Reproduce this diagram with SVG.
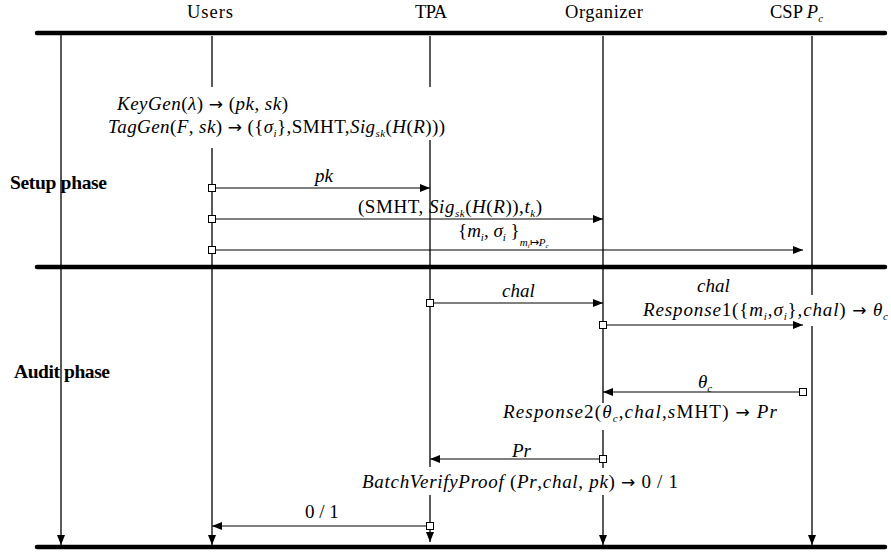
<svg xmlns="http://www.w3.org/2000/svg" width="891" height="552" viewBox="0 0 891 552">
<defs>
<marker id="ah" markerWidth="10" markerHeight="8" refX="10" refY="4" orient="auto" markerUnits="userSpaceOnUse">
<path d="M0,0 L10,4 L0,8 z" fill="#000"/>
</marker>
<style>
text{font-family:"Liberation Serif","Times New Roman",serif;font-size:19px;fill:#000}
.h{font-size:18.5px}
.b{font-weight:bold;font-size:19.5px}
.i{font-style:italic}
.s{font-size:11px}
.ar{font-family:"DejaVu Sans",sans-serif;font-size:17px}
.bar{stroke:#000;stroke-width:4.5;stroke-linecap:round;fill:none}
.life{stroke:#000;stroke-width:1.3;fill:none}
.msg{stroke:#000;stroke-width:1.2;fill:none;marker-end:url(#ah)}
.sq{fill:#fff;stroke:#000;stroke-width:1}
</style>
</defs>
<rect width="891" height="552" fill="#fff"/>

<g id="bars">
<line class="bar" x1="37" y1="33" x2="885" y2="33"/>
<line class="bar" x1="37" y1="267" x2="885" y2="267"/>
<line class="bar" x1="37" y1="547" x2="885" y2="547"/>
</g>

<g id="phase-axis">
<line class="life" x1="61" y1="35" x2="61" y2="545" marker-end="url(#ah)"/>
<text class="b" x="10" y="189" textLength="97">Setup phase</text>
<text class="b" x="14" y="378" textLength="96">Audit phase</text>
</g>

<g id="users">
<text class="h" x="187" y="18" textLength="46">Users</text>
<line class="life" x1="212" y1="36" x2="212" y2="87"/>
<line class="life" x1="212" y1="148" x2="212" y2="545" marker-end="url(#ah)"/>
</g>

<g id="tpa">
<text class="h" x="415" y="18" textLength="32">TPA</text>
<line class="life" x1="430" y1="36" x2="430" y2="87"/>
<line class="life" x1="430" y1="140" x2="430" y2="467"/>
<line class="life" x1="430" y1="495" x2="430" y2="542" marker-end="url(#ah)"/>
</g>

<g id="organizer">
<text class="h" x="565" y="18" textLength="78">Organizer</text>
<line class="life" x1="603" y1="36" x2="603" y2="403"/>
<line class="life" x1="603" y1="430" x2="603" y2="468"/>
<line class="life" x1="603" y1="495" x2="603" y2="545" marker-end="url(#ah)"/>
</g>

<g id="csp">
<text class="h" x="770" y="18">CSP <tspan class="i">P</tspan><tspan class="i s" dy="4">c</tspan></text>
<line class="life" x1="812" y1="36" x2="812" y2="295"/>
<line class="life" x1="812" y1="326" x2="812" y2="545" marker-end="url(#ah)"/>
</g>

<g id="operations">
<text x="117" y="110" textLength="171"><tspan class="i">KeyGen</tspan>(<tspan class="i">λ</tspan>) <tspan class="ar">→</tspan> (<tspan class="i">pk</tspan>, <tspan class="i">sk</tspan>)</text>
<text x="108" y="133" textLength="337"><tspan class="i">TagGen</tspan>(<tspan class="i">F</tspan>, <tspan class="i">sk</tspan>) <tspan class="ar">→</tspan> ({<tspan class="i">σ</tspan><tspan class="i s" dy="4">i</tspan><tspan dy="-4">},SMHT,</tspan><tspan class="i">Sig</tspan><tspan class="i s" dy="4">sk</tspan><tspan dy="-4">(</tspan><tspan class="i">H</tspan>(<tspan class="i">R</tspan>)))</text>
<text x="643" y="316" textLength="245"><tspan class="i">Response</tspan>1({<tspan class="i">m</tspan><tspan class="i s" dy="4">i</tspan><tspan dy="-4">,</tspan><tspan class="i">σ</tspan><tspan class="i s" dy="4">i</tspan><tspan dy="-4">},</tspan><tspan class="i">chal</tspan>) <tspan class="ar">→</tspan> <tspan class="i">θ</tspan><tspan class="i s" dy="4">c</tspan></text>
<text x="503" y="418" textLength="274"><tspan class="i">Response</tspan>2(<tspan class="i">θ</tspan><tspan class="i s" dy="4">c</tspan><tspan dy="-4">,</tspan><tspan class="i">chal</tspan>,<tspan class="i">s</tspan>MHT) <tspan class="ar">→</tspan> <tspan class="i">Pr</tspan></text>
<text x="362" y="488" textLength="316"><tspan class="i">BatchVerifyProof</tspan> (<tspan class="i">Pr</tspan>,<tspan class="i">chal</tspan>, <tspan class="i">pk</tspan>) <tspan class="ar">→</tspan> 0 / 1</text>
</g>

<g id="connectors">
<line class="msg" x1="212" y1="188" x2="430" y2="188"/>
<rect class="sq" x="208.5" y="184.5" width="7" height="7"/>
<text class="i" x="315" y="182">pk</text>

<line class="msg" x1="212" y1="219" x2="603" y2="219"/>
<rect class="sq" x="208.5" y="215.5" width="7" height="7"/>
<text x="358" y="213" textLength="184">(SMHT, <tspan class="i">Sig</tspan><tspan class="i s" dy="4">sk</tspan><tspan dy="-4">(</tspan><tspan class="i">H</tspan>(<tspan class="i">R</tspan>)),<tspan class="i">t</tspan><tspan class="i s" dy="4">k</tspan><tspan dy="-4">)</tspan></text>

<line class="msg" x1="212" y1="250" x2="803" y2="250"/>
<rect class="sq" x="208.5" y="246.5" width="7" height="7"/>
<text x="458" y="237">{<tspan class="i">m</tspan><tspan class="i s" dy="4">i</tspan><tspan dy="-4">, </tspan><tspan class="i">σ</tspan><tspan class="i s" dy="4">i</tspan><tspan dy="-4"> }</tspan><tspan class="i" font-size="11" dy="9">m</tspan><tspan class="i" font-size="7" dy="2">i</tspan><tspan font-size="11" dy="-2">↦</tspan><tspan class="i" font-size="11">P</tspan><tspan class="i" font-size="7" dy="2">c</tspan></text>

<line class="msg" x1="430" y1="303" x2="603" y2="303"/>
<rect class="sq" x="426.5" y="299.5" width="7" height="7"/>
<text class="i" x="502" y="297">chal</text>

<line class="msg" x1="603" y1="325" x2="803" y2="325"/>
<rect class="sq" x="599.5" y="321.5" width="7" height="7"/>
<text class="i" x="697" y="292">chal</text>

<line class="msg" x1="803" y1="392" x2="603" y2="392"/>
<rect class="sq" x="799.5" y="388.5" width="7" height="7"/>
<text x="698" y="388"><tspan class="i">θ</tspan><tspan class="i s" dy="4">c</tspan></text>

<line class="msg" x1="603" y1="459" x2="430" y2="459"/>
<rect class="sq" x="599.5" y="455.5" width="7" height="7"/>
<text class="i" x="512" y="457">Pr</text>

<line class="msg" x1="430" y1="526" x2="212" y2="526"/>
<rect class="sq" x="426.5" y="522.5" width="7" height="7"/>
<text x="305" y="518">0 / 1</text>
</g>
</svg>
